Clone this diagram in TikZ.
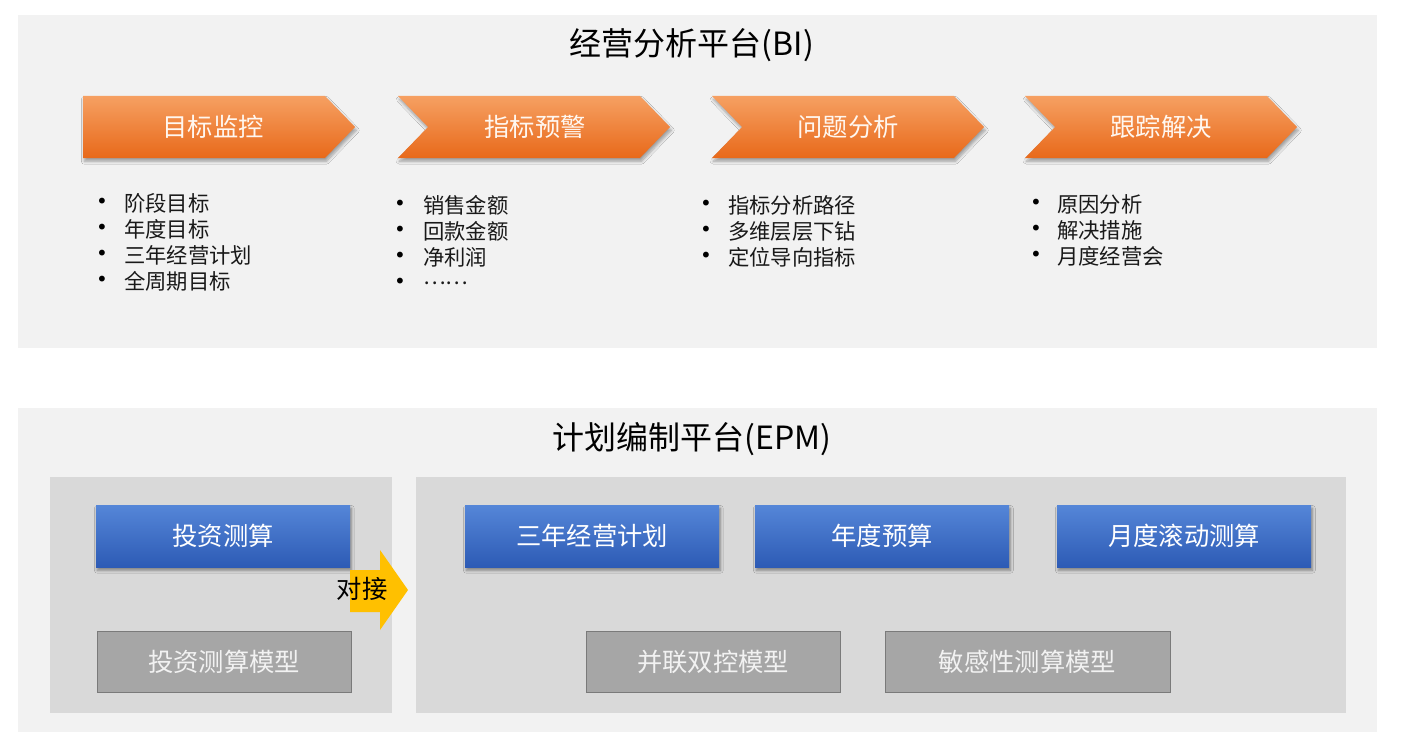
\documentclass[tikz,border=0pt]{standalone}
\usepackage{fontspec}
\setmainfont{Noto Sans CJK SC}
\newfontfamily\dotfont{DejaVu Sans}
\usetikzlibrary{shadows.blur}
\definecolor{panelgray}{HTML}{F2F2F2}
\definecolor{innergray}{HTML}{D9D9D9}
\definecolor{bluetop}{HTML}{5586D8}
\definecolor{bluebot}{HTML}{2D5BB5}
\definecolor{orangetop}{HTML}{F6A062}
\definecolor{orangebot}{HTML}{E8691A}
\definecolor{modelgray}{HTML}{A6A6A6}
\definecolor{modelline}{HTML}{7A7A7A}
\definecolor{arrowyellow}{HTML}{FFC000}
\begin{document}
\begin{tikzpicture}[x=0.75pt,y=-0.75pt,
    title/.style={font=\fontsize{24}{28}\selectfont, text=black, inner sep=0pt},
    chevron/.style={top color=orangetop, bottom color=orangebot,
        blur shadow={shadow xshift=1pt, shadow yshift=-2.5pt, shadow blur steps=6, shadow opacity=35}},
    chevtext/.style={font=\fontsize{19}{22}\selectfont, text=white!94!orange, inner sep=0pt},
    bulletdot/.style={font=\dotfont\fontsize{15}{17}\selectfont, inner sep=0pt},
    bulletitem/.style={anchor=west, font=\fontsize{16}{19}\selectfont, text=black!90, inner sep=0pt},
    planbox/.style={minimum width=190.5pt, minimum height=46.5pt, inner sep=0pt,
        top color=bluetop, bottom color=bluebot, text=white,
        font=\fontsize{19}{22}\selectfont,
        blur shadow={shadow xshift=1pt, shadow yshift=-2.5pt, shadow blur steps=6, shadow opacity=40}},
    modelbox/.style={minimum height=45.75pt, inner sep=0pt, fill=modelgray, draw=modelline,
        line width=0.75pt, text=white!95!black, font=\fontsize{19}{22}\selectfont}]
\useasboundingbox[fill=white] (0,0) rectangle (1403,749);

% BI panel
\fill[panelgray] (18,15) rectangle (1377,348);
\node[title] (bi) at (692,45) {经营分析平台(BI)};

\foreach \n/\l/\d/\c/\t in {mon/83/0/213/目标监控, warn/398/30/535/指标预警,
    ana/712/30/848/问题分析, trk/1025/30/1161/跟踪解决}{
    \path[chevron] (\l,96) -- ({\l+242},96) -- ({\l+272},127) -- ({\l+242},158)
        -- (\l,158) -- ({\l+\d},127) -- cycle;
    \node[chevtext] (\n) at (\c,127) {\t};
}

\foreach \t [count=\i from 0] in {阶段目标,年度目标,三年经营计划,全周期目标}{
    \node[bulletdot] (mond\i) at (102,{203+26*\i}) {•};
    \node[bulletitem] (mont\i) at (124,{203+26*\i}) {\t};
}
\foreach \t [count=\i from 0] in {销售金额,回款金额,净利润,……}{
    \node[bulletdot] (warnd\i) at (400,{205+26*\i}) {•};
    \node[bulletitem] (warnt\i) at (423,{205+26*\i}) {\t};
}
\foreach \t [count=\i from 0] in {指标分析路径,多维层层下钻,定位导向指标}{
    \node[bulletdot] (anad\i) at (706,{205+26*\i}) {•};
    \node[bulletitem] (anat\i) at (728,{205+26*\i}) {\t};
}
\foreach \t [count=\i from 0] in {原因分析,解决措施,月度经营会}{
    \node[bulletdot] (trkd\i) at (1036,{204+26*\i}) {•};
    \node[bulletitem] (trkt\i) at (1057,{204+26*\i}) {\t};
}

% EPM panel
\fill[panelgray] (18,408) rectangle (1377,732);
\node[title] (epm) at (692,439) {计划编制平台(EPM)};
\fill[innergray] (50,477) rectangle (392,713);
\fill[innergray] (416,477) rectangle (1346,713);

\node[planbox] (inv) at (223,536) {投资测算};
\node[planbox] (three) at (592,536) {三年经营计划};
\node[planbox] (year) at (882,536) {年度预算};
\node[planbox] (month) at (1184,536) {月度滚动测算};

\node[modelbox, minimum width=190.5pt] (invm) at (224,661.5) {投资测算模型};
\node[modelbox, minimum width=190.5pt] (dual) at (713,661.5) {并联双控模型};
\node[modelbox, minimum width=213.75pt] (sens) at (1027.5,661.5) {敏感性测算模型};

\fill[arrowyellow] (350,570) -- (380,570) -- (380,550) -- (408,590) -- (380,630)
    -- (380,612) -- (350,612) -- cycle;
\node[font=\fontsize{19}{22}\selectfont, inner sep=0pt] (link) at (362,589) {对接};

\end{tikzpicture}
\end{document}
